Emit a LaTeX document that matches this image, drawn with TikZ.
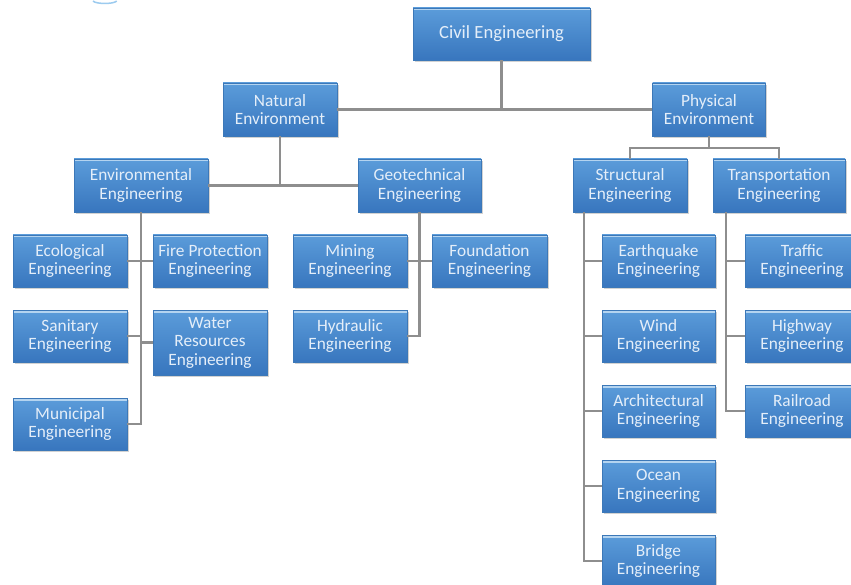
\documentclass[tikz,border=0pt]{standalone}
\usepackage{fontspec}
\setmainfont{Carlito}
\usetikzlibrary{shadows}
\definecolor{boxtop}{HTML}{5B9CDA}
\definecolor{boxbot}{HTML}{3876BE}
\definecolor{boxhi}{HTML}{B4D4F0}
\definecolor{boxedge}{HTML}{3C78B8}
\definecolor{txt}{HTML}{E4EEF9}
\definecolor{conn}{HTML}{8E8E8E}
\definecolor{blip}{HTML}{9CCBEF}
\tikzset{
  box/.style={rectangle, top color=boxtop, bottom color=boxbot, draw=boxedge, line width=0.5pt,
    minimum width=114pt, minimum height=52pt, inner sep=0pt, align=center,
    text=txt, font=\fontsize{17.3}{18.5}\selectfont,
    drop shadow={shadow xshift=1.5pt, shadow yshift=-1.8pt, opacity=0.35},
    path picture={\fill[boxhi] (path picture bounding box.north west) rectangle ([yshift=-2.5pt]path picture bounding box.north east);}},
  link/.style={draw=conn, line width=2.2pt}
}
\begin{document}
\begin{tikzpicture}[x=1pt,y=-1pt]
\useasboundingbox (0,0) rectangle (851,585);
\fill[white] (0,0) rectangle (851,585);
\draw[blip, line width=1.5pt] (93,1) arc[start angle=190, end angle=350, x radius=12pt, y radius=3pt];
% nodes
\node[box, minimum width=177pt, font=\fontsize{18.6}{19}\selectfont] (civil) at (501.5,34) {Civil Engineering};
\node[box, minimum height=53pt] (nat) at (280,109.5) {Natural\\Environment};
\node[box, minimum width=113pt, minimum height=53pt] (phys) at (709,109.5) {Physical\\Environment};
\node[box, minimum width=134pt, minimum height=53pt] (env) at (141,185.5) {Environmental\\Engineering};
\node[box, minimum width=123pt, minimum height=53pt] (geo) at (419.5,185.5) {Geotechnical\\Engineering};
\node[box, minimum height=53pt] (struct) at (630,185.5) {Structural\\Engineering};
\node[box, minimum width=132pt, minimum height=53pt] (trans) at (779,185.5) {Transportation\\Engineering};
\node[box] (eco) at (70,261) {Ecological\\Engineering};
\node[box] (fire) at (210,261) {Fire Protection\\Engineering};
\node[box] (san) at (70,336) {Sanitary\\Engineering};
\node[box, minimum height=65pt] (water) at (210,342.5) {Water\\Resources\\Engineering};
\node[box] (muni) at (70,424) {Municipal\\Engineering};
\node[box] (mining) at (350,261) {Mining\\Engineering};
\node[box] (hydr) at (350,336) {Hydraulic\\Engineering};
\node[box, minimum width=115pt] (found) at (489.5,261) {Foundation\\Engineering};
\node[box, minimum width=113pt] (earth) at (658.5,261) {Earthquake\\Engineering};
\node[box, minimum width=113pt] (wind) at (658.5,336) {Wind\\Engineering};
\node[box, minimum width=113pt] (arch) at (658.5,411) {Architectural\\Engineering};
\node[box, minimum width=113pt] (ocean) at (658.5,486) {Ocean\\Engineering};
\node[box, minimum width=113pt] (bridge) at (658.5,561) {Bridge\\Engineering};
\node[box] (traffic) at (802,261) {Traffic\\Engineering};
\node[box] (highway) at (802,336) {Highway\\Engineering};
\node[box] (rail) at (802,411) {Railroad\\Engineering};
% connectors
\coordinate (pj) at (709,148);
\coordinate (sbus) at ([xshift=11pt]struct.south west);
\coordinate (tbus) at ([xshift=13pt]trans.south west);
\draw[link] (civil.south) -- (civil.south |- nat.east);
\draw[link] (nat.east) -- (phys.west);
\draw[link] (nat.south) -- (nat.south |- env.east);
\draw[link] (env.east) -- (geo.west);
\draw[link] (phys.south) -- (pj);
\draw[link] (struct.north) -- (struct.north |- pj) -- (trans.north |- pj) -- (trans.north);
% environmental
\draw[link] (env.south) -- (env.south |- muni.east) -- (muni.east);
\draw[link] (eco.east) -- (fire.west);
\draw[link] (san.east) -- (env.south |- san.east);
\draw[link] (env.south |- water.west) -- (water.west);
% geotechnical
\draw[link] (geo.south) -- (geo.south |- hydr.east) -- (hydr.east);
\draw[link] (mining.east) -- (found.west);
% structural
\draw[link] (sbus) -- (sbus |- bridge.west) -- (bridge.west);
\draw[link] (earth.west) -- (earth.west -| sbus);
\draw[link] (wind.west) -- (wind.west -| sbus);
\draw[link] (arch.west) -- (arch.west -| sbus);
\draw[link] (ocean.west) -- (ocean.west -| sbus);
% transportation
\draw[link] (tbus) -- (tbus |- rail.west) -- (rail.west);
\draw[link] (traffic.west) -- (traffic.west -| tbus);
\draw[link] (highway.west) -- (highway.west -| tbus);
\end{tikzpicture}
\end{document}
